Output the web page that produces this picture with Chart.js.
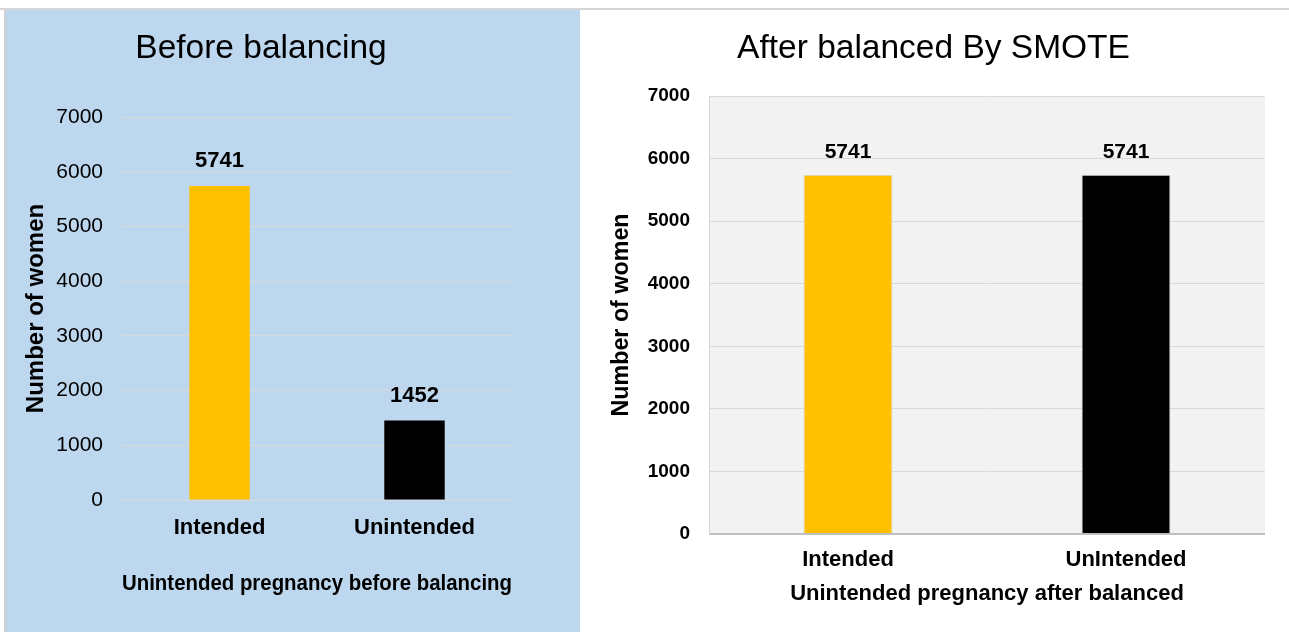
<!DOCTYPE html>
<html>
<head>
<meta charset="utf-8">
<script src="https://cdn.jsdelivr.net/npm/chart.js@4.4.0/dist/chart.umd.min.js"></script>
<style>
  body { margin: 0; background: #fff; width: 1289px; height: 632px; position: relative; overflow: hidden; }
  #topline { position: absolute; left: 0; top: 8px; width: 1289px; height: 2px; background: #d6d6d6; }
  #left { position: absolute; left: 4px; top: 10px; width: 576px; height: 622px; background: #bdd7ee; border-left: 2px solid #d0d0d0; box-sizing: border-box; }
  #right { position: absolute; left: 580px; top: 10px; width: 709px; height: 622px; background: #fff; }
  canvas { position: absolute; left: 0; top: 0; }
</style>
</head>
<body>
<div id="topline"></div>
<div id="left"><canvas id="beforeChart" width="572" height="622"></canvas></div>
<div id="right"><canvas id="afterChart" width="709" height="622"></canvas></div>
<script>
const FONT = '"Liberation Sans", Arial, sans-serif';

// data
const beforeLabels = ['Intended', 'Unintended'];
const beforeCounts = [5741, 1452];
const afterLabels = ['Intended', 'UnIntended'];
const afterCounts = [5741, 5741];
const barColors = ['#ffc000', '#000000'];
const yTicks = [0, 1000, 2000, 3000, 4000, 5000, 6000, 7000];

// draws the value over each bar
const valueLabels = {
  id: 'valueLabels',
  afterDatasetsDraw(chart, args, opts) {
    const ctx = chart.ctx;
    const meta = chart.getDatasetMeta(0);
    ctx.save();
    ctx.font = opts.font;
    ctx.fillStyle = '#000';
    ctx.textAlign = 'center';
    ctx.textBaseline = 'middle';
    meta.data.forEach((bar, i) => {
      ctx.fillText(chart.data.datasets[0].data[i], bar.x, bar.y - opts.offset);
    });
    ctx.restore();
  }
};

// title placed freely, the excel one is not centred on the canvas
const panelTitle = {
  id: 'panelTitle',
  afterDraw(chart, args, opts) {
    const ctx = chart.ctx;
    ctx.save();
    ctx.font = opts.font;
    ctx.fillStyle = '#000';
    ctx.textAlign = 'center';
    ctx.textBaseline = 'alphabetic';
    ctx.fillText(opts.text, opts.x, opts.y);
    ctx.restore();
  }
};

const plotBg = {
  id: 'plotBg',
  beforeDraw(chart, args, opts) {
    if (!opts.color) return;
    const {ctx, chartArea} = chart;
    ctx.save();
    ctx.fillStyle = opts.color;
    ctx.fillRect(chartArea.left, chartArea.top, chartArea.right - chartArea.left, chartArea.bottom - chartArea.top);
    ctx.restore();
  }
};

function makeChart(id, cfg) {
  return new Chart(document.getElementById(id), {
    type: 'bar',
    data: {
      labels: cfg.labels,
      datasets: [{
        data: cfg.values,
        backgroundColor: barColors,
        borderColor: cfg.barBorder,
        borderWidth: cfg.barBorder ? 1 : 0,
        categoryPercentage: 1,
        barPercentage: cfg.barPct
      }]
    },
    plugins: [valueLabels, panelTitle, plotBg],
    options: {
      responsive: false,
      animation: false,
      layout: { padding: { top: cfg.top, right: cfg.right, left: 0, bottom: 0 } },
      plugins: {
        legend: { display: false },
        tooltip: { enabled: false },
        valueLabels: { font: 'bold ' + cfg.valueSize + 'px ' + FONT, offset: cfg.valueOffset },
        panelTitle: { text: cfg.title, x: cfg.titleX, y: 48, font: cfg.titleSize + 'px ' + FONT },
        plotBg: { color: cfg.plotColor }
      },
      scales: {
        x: {
          grid: { display: false },
          border: { display: false },
          ticks: { color: '#000', padding: cfg.xTickPad, font: { family: FONT, size: 22, weight: 'bold' } },
          title: { display: true, text: cfg.xTitle, color: '#000', padding: { top: 0, bottom: cfg.xTitlePad },
                   font: { family: FONT, size: 22, weight: 'bold' } },
          afterFit(scale) { scale.height = cfg.xHeight; }
        },
        y: {
          min: 0,
          max: 7000,
          afterBuildTicks(scale) { scale.ticks = yTicks.map(v => ({ value: v })); },
          grid: {
            drawTicks: false,
            color: ctx => (cfg.zeroLine && ctx.tick.value === 0) ? cfg.zeroLine : '#d9d9d9',
            lineWidth: ctx => (cfg.zeroLine && ctx.tick.value === 0) ? 2 : 1
          },
          border: { display: cfg.yBorder, color: '#d9d9d9' },
          ticks: { color: '#000', padding: 19, callback: v => String(v),
                   font: { family: FONT, size: cfg.yTickSize, weight: cfg.yTickWeight } },
          title: { display: true, text: 'Number of women', color: '#000', padding: { top: cfg.yTitlePad, bottom: 0 },
                   font: { family: FONT, size: cfg.yTitleSize, weight: 'bold' } },
          afterFit(scale) { scale.width = cfg.yWidth; }
        }
      }
    }
  });
}

makeChart('beforeChart', {
  labels: beforeLabels,
  values: beforeCounts,
  title: 'Before balancing',
  titleX: 255, titleSize: 33.5,
  xTitle: 'Unintended pregnancy before balancing',
  top: 107, right: 66, yWidth: 116, xHeight: 132,
  barPct: 0.31,
  valueSize: 22, valueOffset: 25,
  xTickPad: 7, xTitlePad: 35,
  yTitlePad: 16, yTitleSize: 24, yTickSize: 21, yTickWeight: 'normal',
  yBorder: false, zeroLine: null, plotColor: null, barBorder: null
});

makeChart('afterChart', {
  labels: afterLabels,
  values: afterCounts,
  title: 'After balanced By SMOTE',
  titleX: 353.5, titleSize: 33.5,
  xTitle: 'Unintended pregnancy after balanced',
  top: 86, right: 24, yWidth: 129, xHeight: 98,
  barPct: 0.32,
  valueSize: 21, valueOffset: 23,
  xTickPad: 5, xTitlePad: 25,
  yTitlePad: 27.5, yTitleSize: 23.3, yTickSize: 19, yTickWeight: 'bold',
  yBorder: true, zeroLine: '#bfbfbf', plotColor: '#f2f2f2', barBorder: 'rgba(0,0,0,0.12)'
});
</script>
</body>
</html>
